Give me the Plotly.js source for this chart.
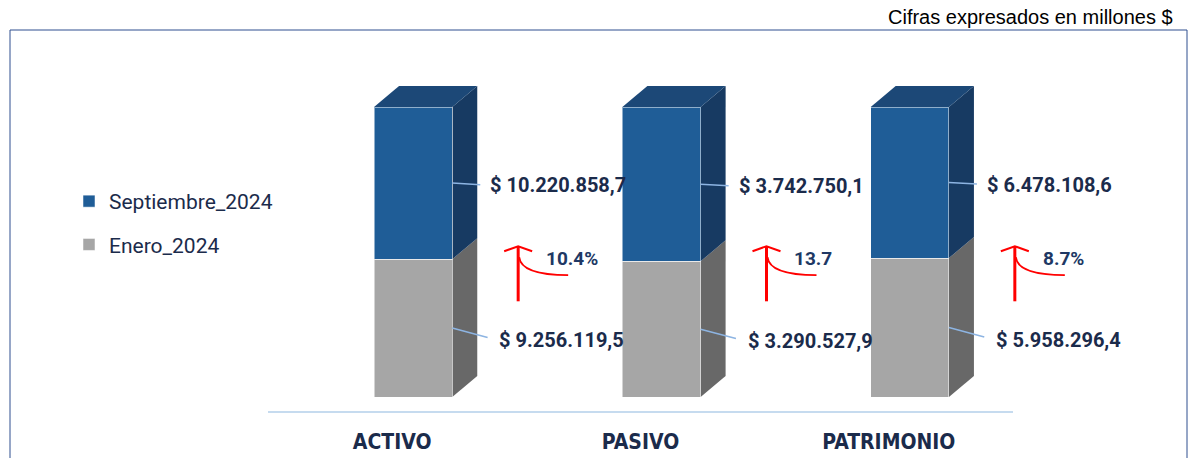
<!DOCTYPE html>
<html>
<head>
<meta charset="utf-8">
<script src="https://cdn.plot.ly/plotly-3.0.1.min.js"></script>
<style>
  html, body { margin: 0; padding: 0; background: #fff; }
  #chart { width: 1190px; height: 458px; }
</style>
</head>
<body>
<div id="chart"></div>
<script>
// cifras en millones $
const categories = ["ACTIVO", "PASIVO", "PATRIMONIO"];
const enero = [9256119.5, 3290527.9, 5958296.4];
const septiembre = [10220858.7, 3742750.1, 6478108.6];
const growthLabels = ["10.4%", "13.7", "8.7%"];
const seriesNames = ["Enero_2024", "Septiembre_2024"];

// plot area geometry (px) -> used to convert pixel nudges into axis units
const W = 1190, H = 458;
const M = { l: 268, r: 177, t: 80, b: 47 };
const PW = W - M.l - M.r, PH = H - M.t - M.b;
const PX_X = PW / 3;                  // px per category unit
const PX_Y = 2.9;                     // px per percent unit
const Y_MIN = -14 / PX_Y;
const Y_MAX = 100 + 27 / PX_Y;

const BAR_W = 0.315, BAR_OFF = -0.073;
const DX = 25 / PX_X, DY = 21 / PX_Y;  // 3d depth

const NAVY = "#1b2b4b";
const C = {
  grayFront: "#a6a6a6", graySide: "#686868",
  blueFront: "#1f5d97", blueSide: "#173a62", blueTop: "#1c4877"
};

// data units -> paper units (so decorations past the axis range are not clipped)
const xp = x => (x + 0.5) / 3;
const yp = y => (y - Y_MIN) / (Y_MAX - Y_MIN);

function fmt(v) {
  let [a, b] = v.toFixed(1).split(".");
  a = a.replace(/\B(?=(\d{3})+(?!\d))/g, ".");
  return "$ " + a + "," + b;
}

const grayPct = enero.map((e, i) => e / (e + septiembre[i]) * 100);
const xs = categories.map((_, i) => i);

const data = [
  {
    type: "bar", name: seriesNames[0], x: xs, y: enero,
    width: BAR_W, offset: BAR_OFF, legendgroup: "a", legendrank: 2,
    marker: { color: C.grayFront, line: { color: "rgba(255,255,255,0.5)", width: 1 } },
    hoverinfo: "skip"
  },
  {
    type: "bar", name: seriesNames[1], x: xs, y: septiembre,
    width: BAR_W, offset: BAR_OFF, legendgroup: "b", legendrank: 1,
    marker: { color: C.blueFront, line: { color: "rgba(255,255,255,0.5)", width: 1 } },
    hoverinfo: "skip"
  }
];

const shapes = [];
const annotations = [];

function poly(pts) {
  return "M " + pts.map(p => p[0] + "," + p[1]).join(" L ") + " Z";
}

const labelFont = { family: "Roboto, Liberation Sans, sans-serif", size: 20, color: NAVY };

xs.forEach(i => {
  const L = i + BAR_OFF, R = L + BAR_W, g = grayPct[i];
  // side + top faces of the 3d column
  shapes.push({ type: "path", xref: "x", yref: "y", layer: "below", line: { width: 0 },
    fillcolor: C.graySide, path: poly([[R, 0], [R + DX, DY], [R + DX, g + DY], [R, g]]) });
  shapes.push({ type: "path", xref: "x", yref: "y", layer: "below", line: { width: 0 },
    fillcolor: C.blueSide, path: poly([[R, g], [R + DX, g + DY], [R + DX, 100 + DY], [R, 100]]) });
  shapes.push({ type: "path", xref: "x", yref: "y", layer: "below", line: { width: 0 },
    fillcolor: C.blueTop, path: poly([[L, 100], [L + DX, 100 + DY], [R + DX, 100 + DY], [R, 100]]) });

  // value labels
  annotations.push({ x: xp(R), y: yp(g + (100 - g) / 2), xref: "paper", yref: "paper",
    text: "<b>" + fmt(septiembre[i]) + "</b>", showarrow: true, arrowhead: 0,
    arrowwidth: 1.5, arrowcolor: "#8db4e2", ax: 36, ay: 2, startstandoff: 8,
    xanchor: "left", yanchor: "middle", font: labelFont });
  annotations.push({ x: xp(R), y: yp(g / 2), xref: "paper", yref: "paper",
    text: "<b>" + fmt(enero[i]) + "</b>", showarrow: true, arrowhead: 0,
    arrowwidth: 1.5, arrowcolor: "#8db4e2", ax: 45, ay: 12, startstandoff: 10,
    xanchor: "left", yanchor: "middle", font: labelFont });

  // red growth arrow
  const ax = i + 126 / PX_X, tip = 52, base = 33;
  const px = p => p / PX_X, py = p => p / PX_Y;
  shapes.push({ type: "line", xref: "paper", yref: "paper",
    x0: xp(ax), x1: xp(ax), y0: yp(base), y1: yp(tip),
    line: { color: "#ff0000", width: 3 } });
  shapes.push({ type: "path", xref: "paper", yref: "paper",
    path: "M " + xp(ax - px(14)) + "," + yp(tip - py(5)) + " L " + xp(ax) + "," + yp(tip) +
          " L " + xp(ax + px(14)) + "," + yp(tip - py(5)),
    line: { color: "#ff0000", width: 2 } });
  shapes.push({ type: "path", xref: "paper", yref: "paper",
    path: "M " + xp(ax + px(1)) + "," + yp(tip - py(11)) +
          " Q " + xp(ax + px(3)) + "," + yp(tip - py(29)) +
          " " + xp(ax + px(50)) + "," + yp(tip - py(29)),
    line: { color: "#ff0000", width: 1.8 } });
  annotations.push({ x: xp(ax + px(26)), y: yp(tip - py(12)), xref: "paper", yref: "paper",
    text: "<b>" + growthLabels[i] + "</b>", showarrow: false, xanchor: "left", yanchor: "middle",
    font: { family: "Roboto, Liberation Sans, sans-serif", size: 19, color: "#203864" } });
});

// outer frame
shapes.push({ type: "rect", xref: "paper", yref: "paper", layer: "below",
  x0: (10 - M.l) / PW, x1: (1187 - M.l) / PW,
  y0: -0.3, y1: (H - M.b - 30) / PH,
  line: { color: "#2f4f8f", width: 1 } });

annotations.push({ xref: "paper", yref: "paper",
  x: (1175 - M.l) / PW, y: (H - M.b - 17) / PH,
  xanchor: "right", yanchor: "middle", showarrow: false,
  text: "Cifras expresados en millones $",
  font: { family: "Liberation Sans, Arial, sans-serif", size: 20, color: "#000" } });

const layout = {
  width: W, height: H,
  margin: M,
  paper_bgcolor: "#fff", plot_bgcolor: "#fff",
  barmode: "stack", barnorm: "percent",
  showlegend: true,
  legend: {
    x: (69 - M.l) / PW, y: (H - M.b - 181) / PH,
    xanchor: "left", yanchor: "top",
    traceorder: "grouped", tracegroupgap: 13,
    font: { family: "Roboto, sans-serif", size: 21, color: NAVY }
  },
  xaxis: {
    range: [-0.5, 2.5], tickvals: xs, ticktext: categories,
    showgrid: false, zeroline: false, ticks: "",
    showline: true, linecolor: "#c6dbef", linewidth: 2,
    ticklabelstandoff: 11,
    tickfont: { family: "DejaVu Sans Condensed, Liberation Sans, sans-serif", size: 21, color: NAVY, weight: "bold" }
  },
  yaxis: {
    range: [Y_MIN, Y_MAX], visible: false, showgrid: false, zeroline: false
  },
  shapes: shapes,
  annotations: annotations
};

Plotly.newPlot("chart", data, layout, { displayModeBar: false, staticPlot: true });
</script>
</body>
</html>
